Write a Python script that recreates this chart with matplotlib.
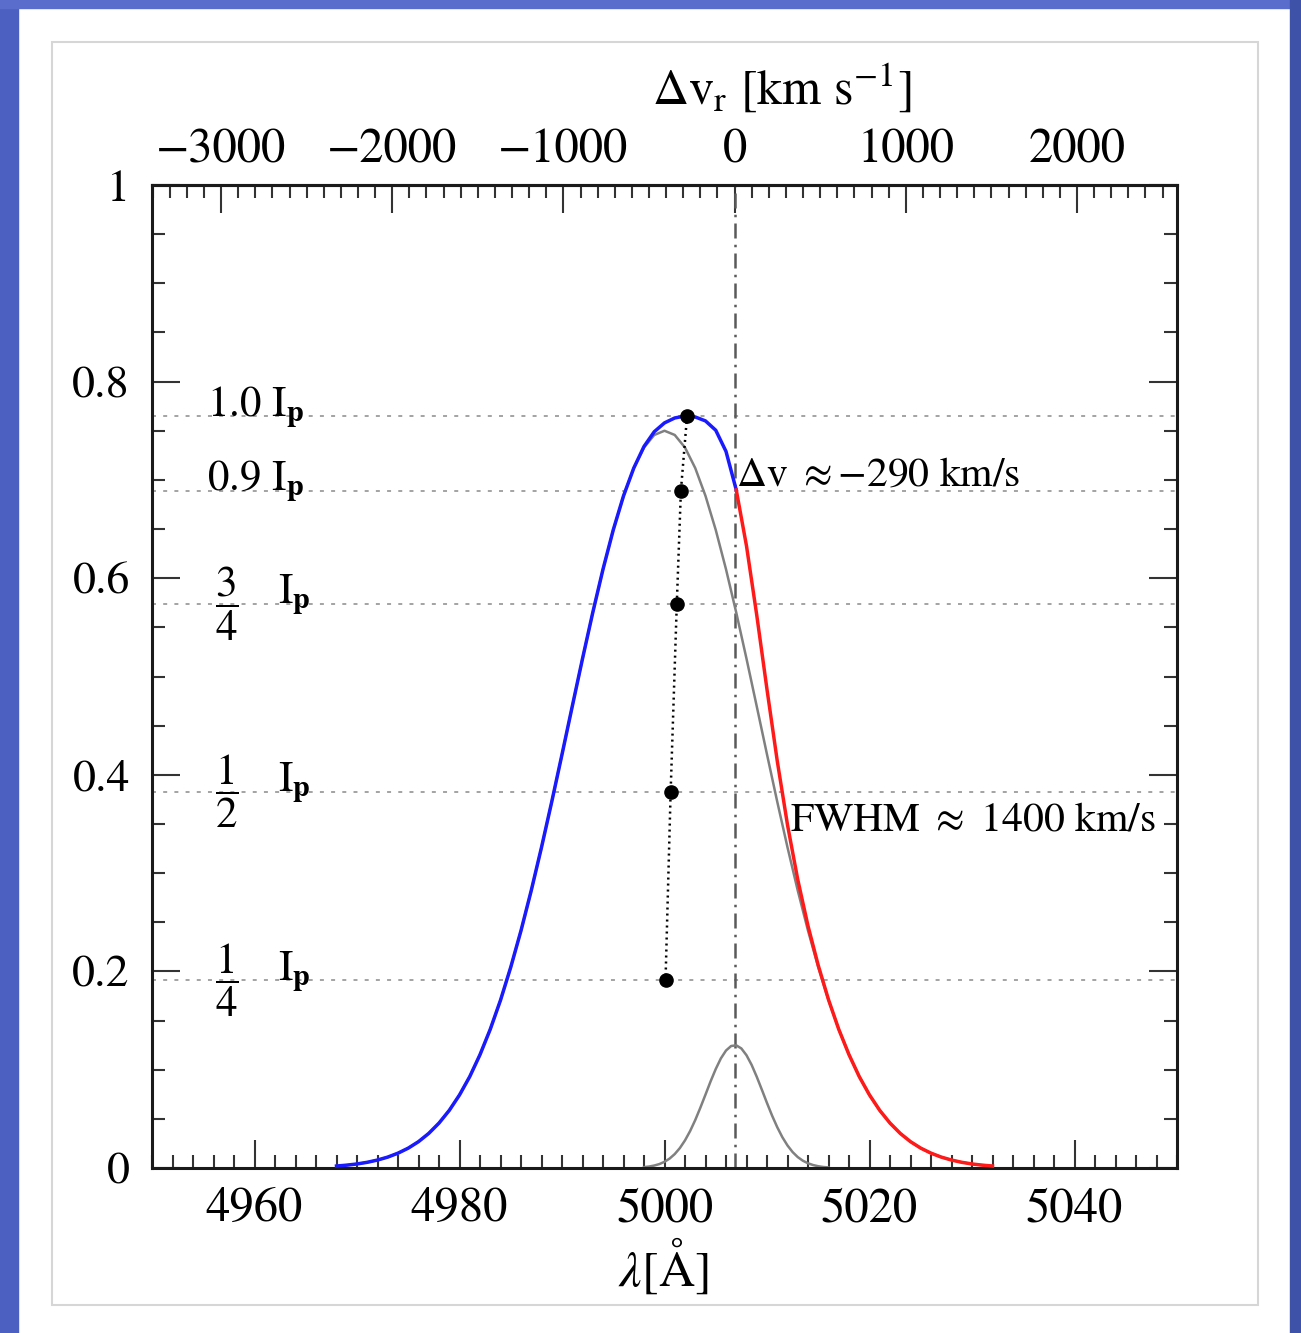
import numpy as np
import matplotlib
matplotlib.use('Agg')
import matplotlib.pyplot as plt
from matplotlib.ticker import MultipleLocator, FixedLocator, FuncFormatter
from matplotlib.patches import Rectangle

plt.rcParams['font.family'] = ['STIXGeneral', 'DejaVu Serif']
plt.rcParams['mathtext.fontset'] = 'stix'

# [OIII] rest wavelength and speed of light, for the velocity axis on top
REST_WAVE = 5006.84
C_KMS = 299792.458

# line profile (1 A steps from 4968 to 5032)
lam = np.arange(4968, 5033)
total_flux = [0.0020, 0.0029, 0.0041, 0.0058, 0.0081, 0.0111, 0.0151, 0.0202,
              0.0268, 0.0352, 0.0457, 0.0586, 0.0743, 0.0930, 0.1153, 0.1411,
              0.1707, 0.2043, 0.2415, 0.2823, 0.3262, 0.3726, 0.4207, 0.4696,
              0.5181, 0.5650, 0.6091, 0.6491, 0.6837, 0.7120, 0.7340, 0.7490,
              0.7580, 0.7630, 0.7650, 0.7640, 0.7600, 0.7505, 0.7290, 0.6898,
              0.6328, 0.5624, 0.4868, 0.4141, 0.3491, 0.2934, 0.2463, 0.2061,
              0.1713, 0.1411, 0.1153, 0.0930, 0.0743, 0.0586, 0.0457, 0.0352,
              0.0268, 0.0202, 0.0151, 0.0111, 0.0081, 0.0058, 0.0041, 0.0029,
              0.0020]
broad_flux = [0.0020, 0.0029, 0.0041, 0.0058, 0.0081, 0.0111, 0.0151, 0.0202,
              0.0268, 0.0352, 0.0457, 0.0586, 0.0743, 0.0930, 0.1153, 0.1411,
              0.1707, 0.2043, 0.2415, 0.2823, 0.3262, 0.3726, 0.4207, 0.4696,
              0.5181, 0.5650, 0.6091, 0.6491, 0.6837, 0.7120, 0.7329, 0.7457,
              0.7500, 0.7457, 0.7329, 0.7120, 0.6837, 0.6491, 0.6091, 0.5650,
              0.5181, 0.4696, 0.4207, 0.3726, 0.3262, 0.2823, 0.2415, 0.2043,
              0.1707, 0.1411, 0.1153, 0.0930, 0.0743, 0.0586, 0.0457, 0.0352,
              0.0268, 0.0202, 0.0151, 0.0111, 0.0081, 0.0058, 0.0041, 0.0029,
              0.0020]

# narrow component (0.5 A steps from 4998 to 5016)
lam_narrow = np.arange(4998.0, 5016.5, 0.5)
narrow_flux = [0.0009, 0.0015, 0.0025, 0.0040, 0.0063, 0.0096, 0.0142, 0.0203,
               0.0281, 0.0376, 0.0488, 0.0614, 0.0747, 0.0882, 0.1007, 0.1115,
               0.1195, 0.1241, 0.1248, 0.1216, 0.1147, 0.1049, 0.0928, 0.0796,
               0.0661, 0.0532, 0.0415, 0.0313, 0.0229, 0.0162, 0.0111, 0.0074,
               0.0048, 0.0030, 0.0018, 0.0010, 0.0006]

# intensity levels and bisector points
level_names = ['1.0', '0.9', '3/4', '1/2', '1/4']
level_flux = [0.765, 0.689, 0.574, 0.383, 0.191]
bisector_lam = [5002.2, 5001.6, 5001.2, 5000.6, 5000.1]

vel_ticks = [-3000, -2000, -1000, 0, 1000, 2000]

lam = np.asarray(lam)
total_flux = np.asarray(total_flux)

fig = plt.figure(figsize=(13.01, 13.33), dpi=100)
fig.patch.set_facecolor('white')

# slide frame
fig.patches.append(Rectangle((0, 0), 18/1301, 1, transform=fig.transFigure,
                             color='#4c60c2', zorder=0))
fig.patches.append(Rectangle((0, 1-8/1333), 1, 8/1333, transform=fig.transFigure,
                             color='#5a6dcc', zorder=0))
fig.patches.append(Rectangle((1290/1301, 0), 11/1301, 1, transform=fig.transFigure,
                             color='#3e52a8', zorder=0))
fig.patches.append(Rectangle((52/1301, 1-1305/1333), 1206/1301, 1263/1333,
                             transform=fig.transFigure, fill=False,
                             edgecolor='#d6d6d6', lw=1.5, zorder=0))

ax = fig.add_axes([152/1301, 165/1333, 1025/1301, 983/1333])
ax.set_xlim(4950, 5050)
ax.set_ylim(0, 1)

# dotted intensity levels
for yv in level_flux:
    ax.axhline(yv, color='#9c9c9c', lw=1.3, dashes=[2.2, 4], zorder=1)

# zero velocity
ax.axvline(REST_WAVE, color='#5a5a5a', lw=1.8, dashes=[6, 2.5, 1, 2.5], zorder=1.5)

ax.plot(lam, broad_flux, color='#808080', lw=1.8, zorder=2)
ax.plot(lam_narrow, narrow_flux, color='#808080', lw=1.8, zorder=2)

blue = lam <= 5007
red = lam >= 5007
ax.plot(lam[blue], total_flux[blue], color='#1a1aff', lw=2.5, zorder=3)
ax.plot(lam[red], total_flux[red], color='#ff1a1a', lw=2.5, zorder=3)

ax.plot(bisector_lam, level_flux, color='black', lw=1.8, dashes=[0.8, 1.6], zorder=4)
ax.plot(bisector_lam, level_flux, 'o', color='black', ms=9.5, zorder=5)

# level labels
for name, yv in zip(level_names, level_flux):
    if '/' in name:
        num, den = name.split('/')
        ax.text(4957.3, yv, r'$\dfrac{%s}{%s}$' % (num, den), fontsize=31,
                ha='center', va='center', zorder=6)
        ax.text(4962.3, yv, r'I$_\mathbf{p}$', fontsize=31, ha='left',
                va='baseline', zorder=6)
    else:
        ax.text(4955.4, yv, name + r' I$_\mathbf{p}$', fontsize=31, ha='left',
                va='baseline', zorder=6)

ax.text(5007.0, 0.694, r'$\Delta$v $\approx$$-$290 km/s', fontsize=30,
        ha='left', va='baseline', zorder=6)
ax.text(5012.2, 0.343, r'FWHM $\approx$ 1400 km/s', fontsize=30,
        ha='left', va='baseline', zorder=6)

# axes styling
for s in ax.spines.values():
    s.set_linewidth(2.2)
    s.set_color('#1a1a1a')

ax.xaxis.set_major_locator(MultipleLocator(20))
ax.xaxis.set_minor_locator(MultipleLocator(2))
ax.yaxis.set_major_locator(MultipleLocator(0.2))
ax.yaxis.set_minor_locator(MultipleLocator(0.05))
ax.yaxis.set_major_formatter(FuncFormatter(
    lambda v, p: '0' if abs(v) < 1e-9 else ('1' if abs(v - 1) < 1e-9 else '%.1f' % v)))
ax.xaxis.set_major_formatter(FuncFormatter(lambda v, p: '%d' % v))
ax.tick_params(which='both', direction='in', top=False, right=True,
               width=1.5, color='#333333')
ax.tick_params(which='major', length=20)
ax.tick_params(which='minor', length=9.5)
ax.tick_params(axis='x', labelsize=35, pad=14)
ax.tick_params(axis='y', labelsize=33, pad=16)


def lam2v(x):
    return (np.asarray(x) / REST_WAVE - 1.0) * C_KMS


def v2lam(v):
    return REST_WAVE * (1.0 + np.asarray(v) / C_KMS)


secax = ax.secondary_xaxis('top', functions=(lam2v, v2lam))
secax.xaxis.set_major_locator(FixedLocator(vel_ticks))
secax.xaxis.set_minor_locator(MultipleLocator(100))
secax.xaxis.set_major_formatter(FuncFormatter(
    lambda v, p: ('\u2212%d' % abs(v)) if v < 0 else '%d' % v))
secax.tick_params(which='both', direction='in', width=1.5, color='#333333')
secax.tick_params(which='major', length=20, labelsize=35, pad=8)
secax.tick_params(which='minor', length=9.5)
secax.spines['top'].set_linewidth(2.2)

fig.text(782/1301, 1 - 88/1333, r'$\Delta$v$_\mathrm{r}$ [km s$^{-1}$]',
         fontsize=36, ha='center', va='center')
fig.text(663/1301, 1 - 1266/1333, r'$\lambda$[$\mathrm{\AA}$]', fontsize=36,
         ha='center', va='center')

fig.savefig('out.png', dpi=100)
